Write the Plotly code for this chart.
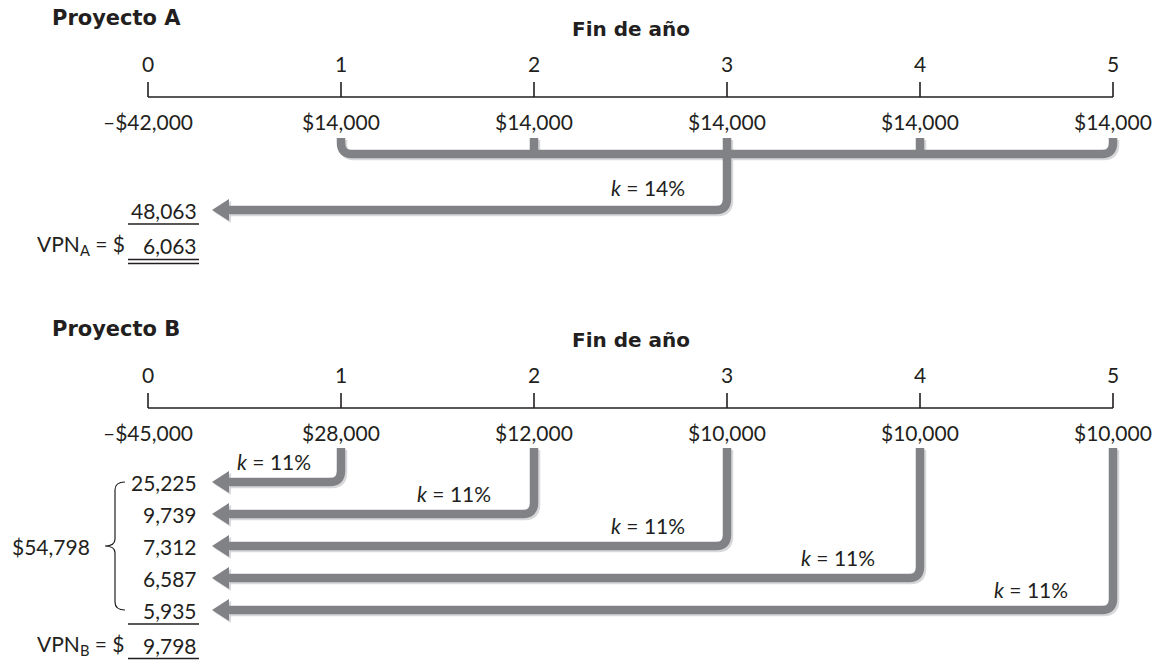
import plotly.graph_objects as go

# ---------------- data ----------------
years = [0, 1, 2, 3, 4, 5]
year_labels = ["0", "1", "2", "3", "4", "5"]
flows_A = [-42000, 14000, 14000, 14000, 14000, 14000]
flows_B = [-45000, 28000, 12000, 10000, 10000, 10000]
k_A = 14
k_B = 11
pv_A_total = 48063
npv_A = 6063
pv_B = [25225, 9739, 7312, 6587, 5935]
pv_B_total = 54798
npv_B = 9798

# ---------------- layout constants (pixels) ----------------
W, H = 1160, 661
X0, STEP = 148, 193          # pixel of year 0, pixels per year
FONT = "Lato"
BOLD_FONT = "DejaVu Sans"
TXT = "#231f20"
GRAY = "#808285"
SHADOW = "#d8d8da"
LW = 8.5


def X(px):
    """pixel -> year units (for decoration offsets)"""
    return (px - X0) / STEP


def DX(dpx):
    return dpx / STEP


def money(v):
    s = f"${abs(v):,}"
    return ("\u2013" + s) if v < 0 else s


fig = go.Figure()
shapes = []
ann = []


def text(x, y, s, size=21, anchor="center", bold=False):
    ann.append(dict(x=x, y=y, xref="x", yref="y", text=s, showarrow=False,
                    xanchor=anchor, yanchor="middle",
                    font=dict(family=BOLD_FONT if bold else FONT, size=size, color=TXT,
                              weight=700 if bold else 400)))


def line(x0, y0, x1, y1, w=1.6, color=TXT):
    shapes.append(dict(type="line", xref="x", yref="y", x0=x0, y0=y0, x1=x1, y1=y1,
                       line=dict(color=color, width=w), layer="above"))


def path(d, w=LW, color=GRAY, fill=None):
    s = dict(type="path", xref="x", yref="y", path=d, line=dict(color=color, width=w),
             layer="above")
    if fill:
        s["fillcolor"] = fill
        s["line"] = dict(color=fill, width=0)
    shapes.append(s)


def P(x, y):
    return f"{x:.5f},{y:.2f}"


R = 11  # corner radius px


def elbow_arrow(xs, ytop, yrow, off=0.0, color=GRAY):
    """vertical from (xs,ytop) down to yrow, rounded corner, left to the arrow head"""
    ox, oy = DX(off), off
    xs2 = xs + ox
    d = (f"M{P(xs2, ytop + oy)} L{P(xs2, yrow - R + oy)} "
         f"Q{P(xs2, yrow + oy)} {P(xs2 - DX(R), yrow + oy)} "
         f"L{P(X(226) + ox, yrow + oy)}")
    path(d, color=color)
    tip = X(212) + ox
    base = X(229) + ox
    head = f"M{P(tip, yrow + oy)} L{P(base, yrow - 11 + oy)} L{P(base, yrow + 11 + oy)} Z"
    path(head, fill=color)


def timeline(ybase, flows, dy, name):
    text(X(50), 18 + dy, "Proyecto " + name, size=21, anchor="left", bold=True)
    text(X(631), 29 + dy, "Fin de año", size=20, bold=True)
    line(years[0], ybase, years[-1], ybase)
    for yr, lab, f in zip(years, year_labels, flows):
        line(yr, ybase - 15, yr, ybase)
        text(yr, 63 + dy, lab)
        text(yr, 121 + dy, money(f))


# ---------------- Proyecto A ----------------
timeline(97, flows_A, 0, "A")
YB, YT = 154, 138
for off, col in [(2, SHADOW), (0, GRAY)]:
    ox = DX(off)
    d = (f"M{P(years[1] + ox, YT + off)} L{P(years[1] + ox, YB - R + off)} "
         f"Q{P(years[1] + ox, YB + off)} {P(years[1] + DX(R) + ox, YB + off)} "
         f"L{P(years[5] - DX(R) + ox, YB + off)} "
         f"Q{P(years[5] + ox, YB + off)} {P(years[5] + ox, YB - R + off)} "
         f"L{P(years[5] + ox, YT + off)}")
    path(d, color=col)
    for yr in years[2:5]:
        path(f"M{P(yr + ox, YT + off)} L{P(yr + ox, YB + off)}", color=col)
    elbow_arrow(years[3], YB, 210, off=off, color=col)

text(years[3] - DX(40), 187, f"<i>k</i> = {k_A}%", anchor="right")
text(X(199), 210, f"{pv_A_total:,}", anchor="right")
line(X(128), 224, X(199), 224, w=1.3)
text(X(127), 245, "VPN<sub>A</sub> = $", anchor="right")
text(X(199), 245, f"{npv_A:,}", anchor="right")
line(X(128), 259.5, X(199), 259.5, w=1.3)
line(X(128), 263.5, X(199), 263.5, w=1.3)

# ---------------- Proyecto B ----------------
DY = 311
timeline(97 + DY, flows_B, DY, "B")
ROW0, ROW = 482, 32
k_dx = [28, 41, 40, 43, 43]
for i, yr in enumerate(years[1:]):
    yrow = ROW0 + i * ROW
    for off, col in [(2, SHADOW), (0, GRAY)]:
        elbow_arrow(yr, 448, yrow, off=off, color=col)
for i, yr in enumerate(years[1:]):
    yrow = ROW0 + i * ROW
    text(yr - DX(k_dx[i]), yrow - 21, f"<i>k</i> = {k_B}%", anchor="right")
    text(X(199), yrow, f"{pv_B[i]:,}", anchor="right")

ylast = ROW0 + 4 * ROW
line(X(128), ylast + 14, X(199), ylast + 14, w=1.3)
text(X(127), 645, "VPN<sub>B</sub> = $", anchor="right")
text(X(199), 645, f"{npv_B:,}", anchor="right")
line(X(128), 658.5, X(199), 658.5, w=1.3)

# brace
ymid = (ROW0 + ylast) / 2
brace = (f"M{P(X(125), ROW0)} Q{P(X(115), ROW0)} {P(X(115), ROW0 + 8)} "
         f"L{P(X(115), ymid - 7)} Q{P(X(115), ymid)} {P(X(105), ymid)} "
         f"Q{P(X(115), ymid)} {P(X(115), ymid + 7)} "
         f"L{P(X(115), ylast - 8)} Q{P(X(115), ylast)} {P(X(125), ylast)}")
path(brace, w=1.2, color=TXT)
text(X(92), ymid, f"${pv_B_total:,}", anchor="right")

fig.update_layout(
    width=W, height=H, margin=dict(l=0, r=0, t=0, b=0),
    paper_bgcolor="white", plot_bgcolor="white", showlegend=False,
    xaxis=dict(range=[X(0), X(W)], visible=False, fixedrange=True),
    yaxis=dict(range=[H, 0], visible=False, fixedrange=True),
    shapes=shapes, annotations=ann,
)
fig.write_html("out.html", config={"displayModeBar": False},
               post_script="document.body.style.margin='0';document.body.style.overflow='hidden';")
